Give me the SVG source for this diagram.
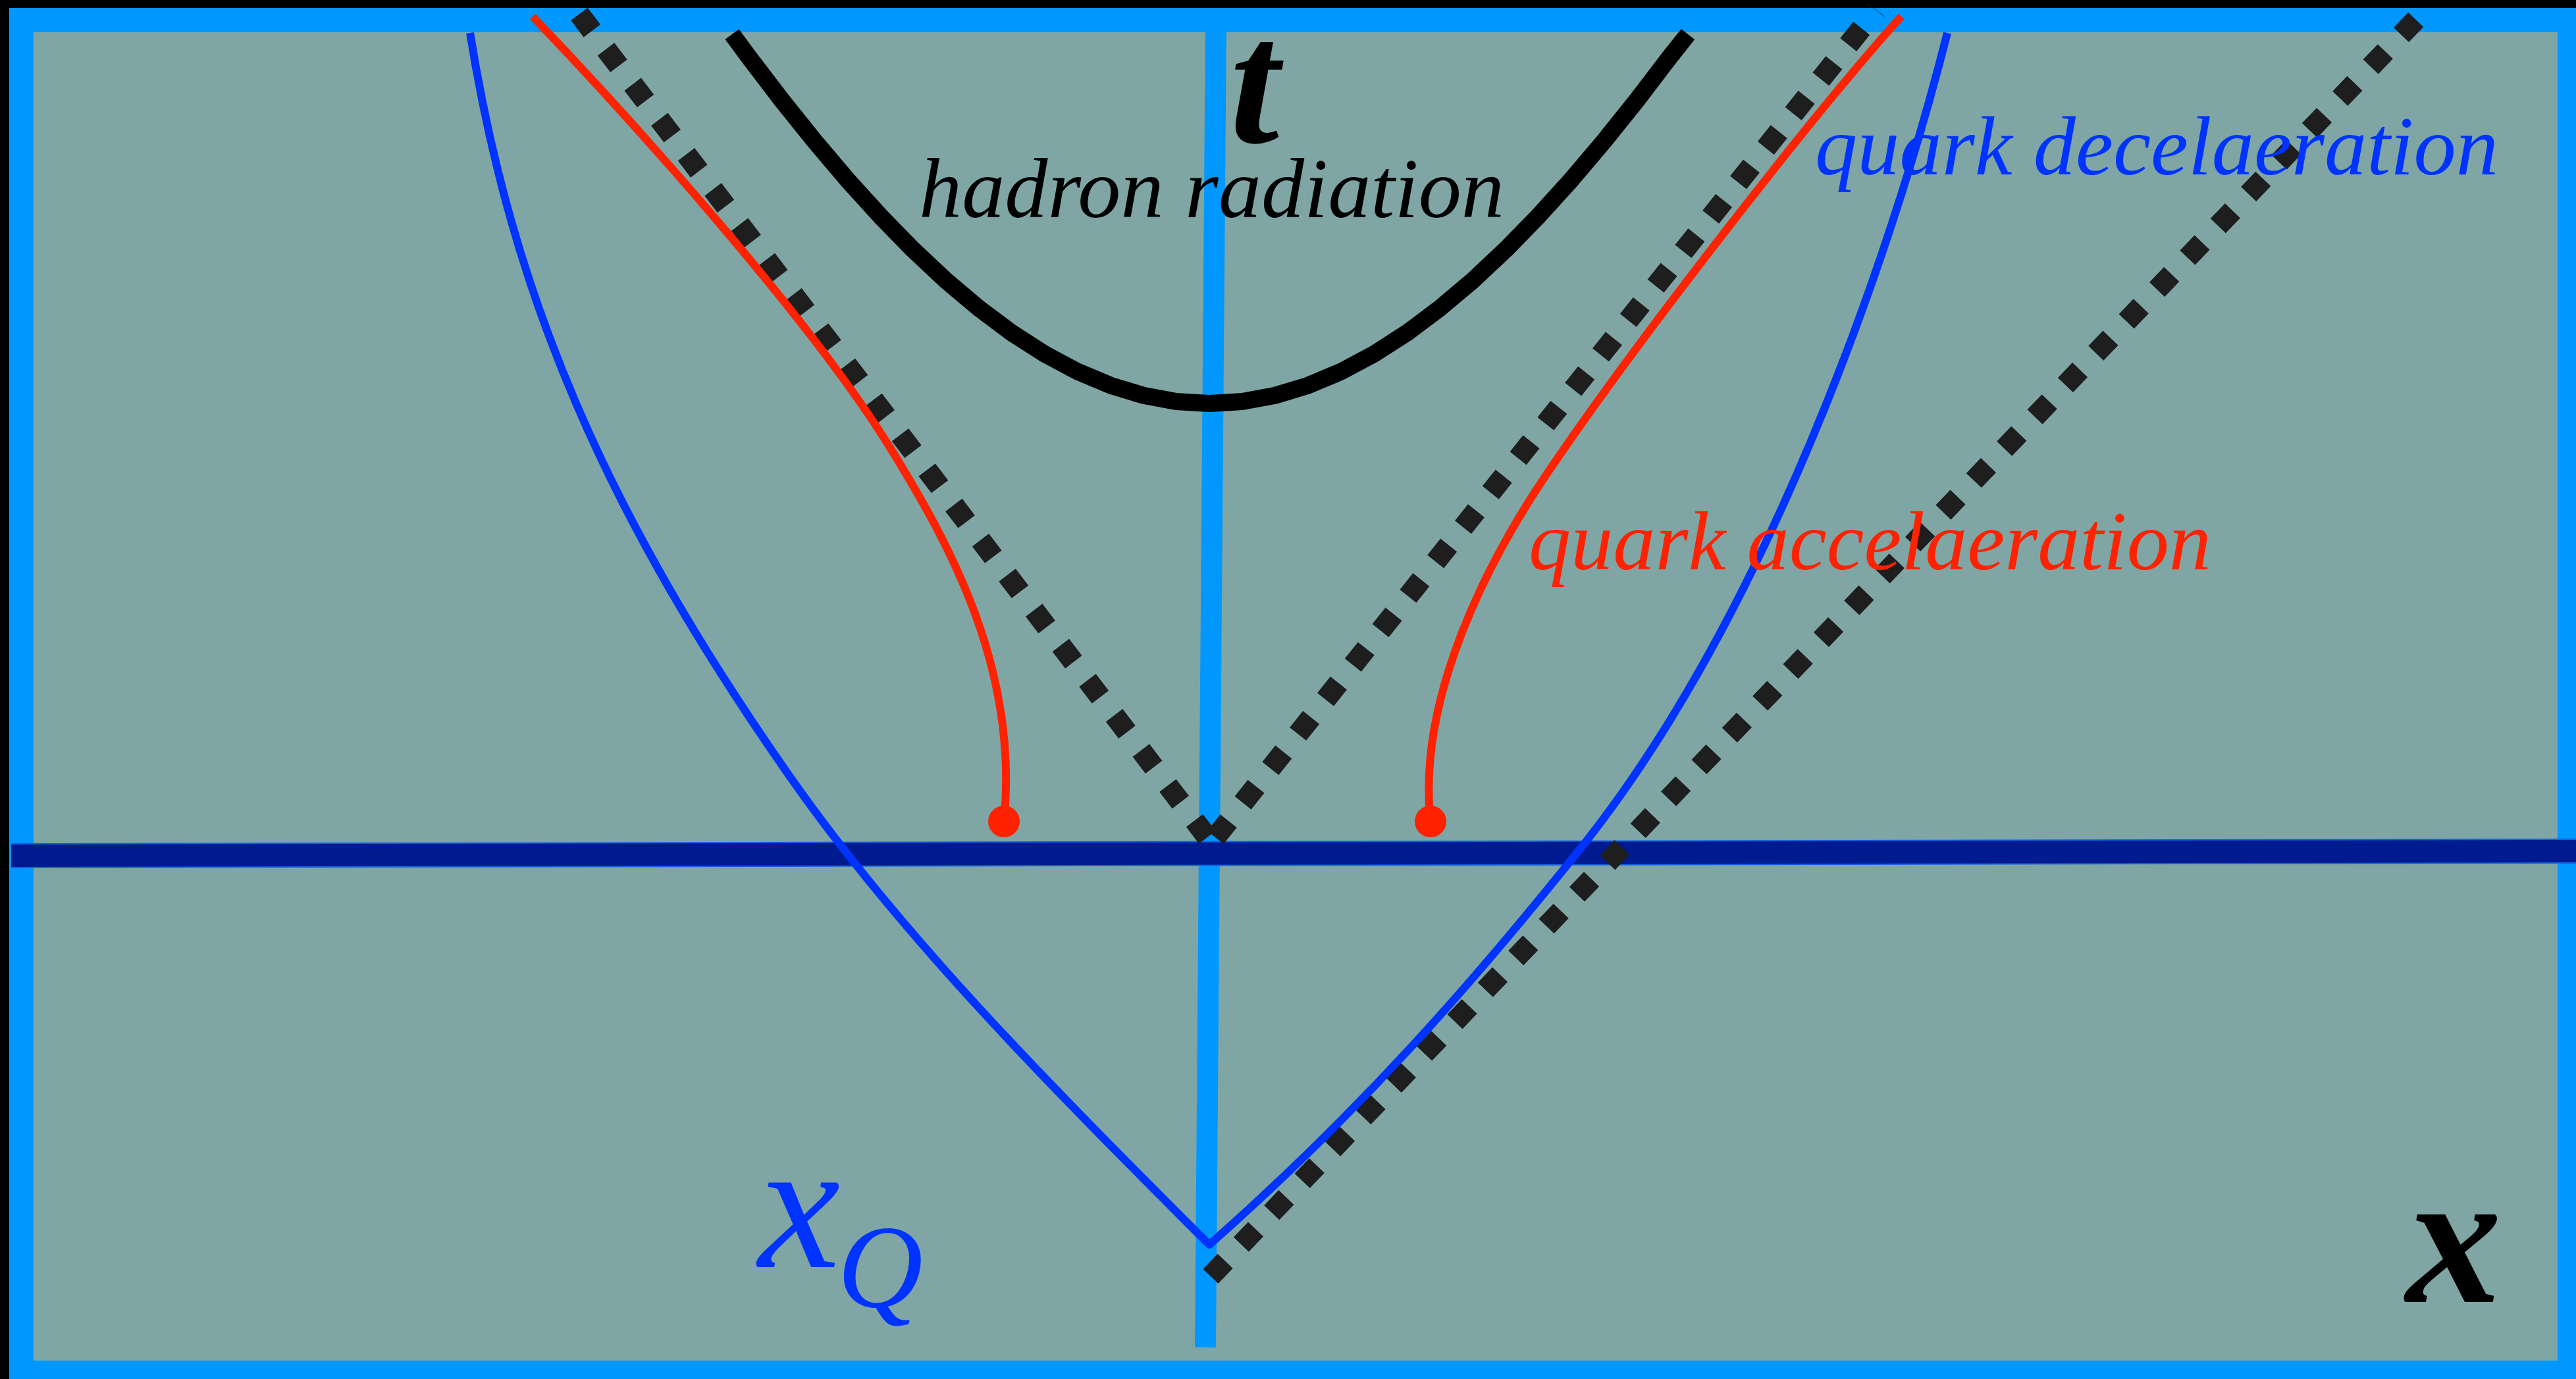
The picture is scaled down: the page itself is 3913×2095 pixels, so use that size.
<svg xmlns="http://www.w3.org/2000/svg" width="3913" height="2095" viewBox="0 0 3913 2095">
  <defs>
    <style>
      .lbl { font-family: "Liberation Serif", "Times New Roman", serif; font-style: italic; }
      .dash { fill: none; stroke: #1E1E1E; stroke-width: 32; stroke-dasharray: 32 35; stroke-linecap: butt; }
      .red { fill: none; stroke: #FF2200; stroke-width: 12; stroke-linecap: butt; }
      .blue { fill: none; stroke: #0033FF; stroke-width: 12; stroke-linejoin: round; }
    </style>
  </defs>

  <g id="frame">
    <rect x="0" y="0" width="3913" height="2095" fill="#000000"/>
    <rect x="14" y="12" width="3899" height="2083" fill="#0098FF"/>
    <rect x="51" y="49" width="3834" height="2018" fill="#7FA6A5"/>
  </g>

  <g id="axes">
    <line id="t-axis" x1="1847" y1="40" x2="1831" y2="2047" stroke="#0098FF" stroke-width="32"/>
    <line x1="17" y1="1300" x2="3913" y2="1293" stroke="#1060E0" stroke-width="38"/>
    <line id="x-axis" x1="17" y1="1300" x2="3913" y2="1293" stroke="#001A8F" stroke-width="34"/>
  </g>

  <g id="connectors">
    <g id="light-cones">
      <line class="dash" x1="1840" y1="1280" x2="875" y2="15" stroke-dashoffset="-10"/>
      <line class="dash" x1="1840" y1="1280" x2="2850" y2="15" stroke-dashoffset="-10"/>
      <line class="dash" x1="1839" y1="1939" x2="3684" y2="15"/>
    </g>
    <g id="hadron-radiation-curve">
      <polyline fill="none" stroke="#000000" stroke-width="26" stroke-linejoin="round"
        points="1112,52 1137,86 1187,151.5 1237,213.9 1287,272.9 1337,328.1 1387,379.3 1437,426.2 1487,468.4 1537,505.8 1587,537.9 1637,564.6 1687,585.6 1737,600.8 1787,610 1837,613 1887,610 1937,600.8 1987,585.6 2037,564.6 2087,537.9 2137,505.8 2187,468.4 2237,426.2 2287,379.3 2337,328.1 2387,272.9 2437,213.9 2487,151.5 2537,86 2564,52"/>
    </g>
    <g id="quark-deceleration-curve">
      <path class="blue" d="M714,50 C778,450 920,780 1200,1180 C1368,1420 1587,1641 1837,1891 C2070,1685 2240,1490 2400,1290 C2680,940 2870,400 2958,50"/>
    </g>
    <g id="quark-acceleration-curves">
      <path class="red" d="M1525,1248 C1548,1020 1445,830 1352,680 C1228,480 953,175 809,25"/>
      <path class="red" d="M2173,1248 C2152,1060 2261,851 2349,721 C2484,521 2753,175 2888,25"/>
      <circle cx="1525" cy="1248" r="24" fill="#FF2200"/>
      <circle cx="2173" cy="1248" r="24" fill="#FF2200"/>
    </g>
  </g>

  <g id="label-t">
    <text class="lbl" x="1868" y="216" font-size="270" font-weight="bold" fill="#000000">t</text>
  </g>
  <g id="label-hadron-radiation">
    <text class="lbl" x="1396" y="330" font-size="130" fill="#000000" textLength="889" lengthAdjust="spacingAndGlyphs">hadron radiation</text>
  </g>
  <g id="label-quark-deceleration">
    <text class="lbl" x="2757" y="265" font-size="128" fill="#0033FF" textLength="1038" lengthAdjust="spacingAndGlyphs">quark decelaeration</text>
  </g>
  <g id="label-quark-acceleration">
    <text class="lbl" x="2322" y="865" font-size="128" fill="#FF2200" textLength="1037" lengthAdjust="spacingAndGlyphs">quark accelaeration</text>
  </g>
  <g id="label-xQ">
    <text class="lbl" x="1152" y="1925" font-size="280" fill="#0033FF">x<tspan x="1272" y="1985" font-size="180">Q</tspan></text>
  </g>
  <g id="label-x">
    <text class="lbl" x="3655" y="1978" font-size="290" font-weight="bold" fill="#000000">x</text>
  </g>
</svg>
